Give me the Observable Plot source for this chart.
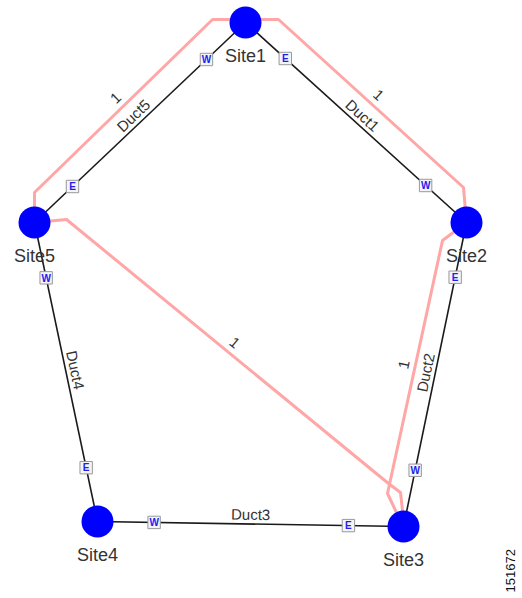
<!DOCTYPE html>
<html><head><meta charset="utf-8">
<script src="https://cdn.jsdelivr.net/npm/d3@7"></script>
<script src="https://cdn.jsdelivr.net/npm/@observablehq/plot@0.6"></script>
<style>body{margin:0;background:#fff;}</style>
</head><body><div id="chart"></div>
<script>
// Sites (node positions)
const siteNames = ["Site1", "Site2", "Site3", "Site4", "Site5"];
const siteX = [245, 466, 403, 97, 34];
const siteY = [22, 222, 526, 521, 222];

// Ducts
const ductNames = ["Duct1", "Duct2", "Duct3", "Duct4", "Duct5"];
const ductFrom = ["Site1", "Site2", "Site3", "Site4", "Site5"];
const ductTo = ["Site2", "Site3", "Site4", "Site5", "Site1"];
const fromPort = ["E", "E", "E", "E", "E"];
const toPort = ["W", "W", "W", "W", "W"];
const portFraction = [0.18, 0.815];

// Ring (circuit) path
const ringX = [34, 34, 212, 278, 463, 466, 442, 387, 395, 403, 402, 400, 388, 66, 34];
const ringY = [222, 192, 19, 19, 187, 222, 240, 493, 510, 526, 510, 492, 483, 219, 222];
const ringLabelSegment = [1, 3, 6, 12];
const ringLabelText = ["1", "1", "1", "1"];

const figureId = "151672";

// ---- derived tables ----
const sites = siteNames.map((name, i) => ({name, x: siteX[i], y: siteY[i]}));
const byName = Object.fromEntries(sites.map(s => [s.name, s]));
const norm = a => { while (a > 90) a -= 180; while (a <= -90) a += 180; return a; };
const angleOf = (x1, y1, x2, y2) => norm(Math.atan2(y2 - y1, x2 - x1) * 180 / Math.PI);
const up = (ang, d) => [d * Math.sin(ang * Math.PI / 180), -d * Math.cos(ang * Math.PI / 180)];

const ducts = ductNames.map((name, i) => {
  const a = byName[ductFrom[i]], b = byName[ductTo[i]];
  const ang = angleOf(a.x, a.y, b.x, b.y);
  const [ox, oy] = up(ang, 9);
  return {name, x1: a.x, y1: a.y, x2: b.x, y2: b.y, ang,
          lx: (a.x + b.x) / 2 + ox, ly: (a.y + b.y) / 2 + oy};
});
const ports = [];
ductNames.forEach((name, i) => {
  const a = byName[ductFrom[i]], b = byName[ductTo[i]];
  [[portFraction[0], fromPort[i]], [portFraction[1], toPort[i]]].forEach(([t, lab]) => {
    ports.push({x: a.x + (b.x - a.x) * t, y: a.y + (b.y - a.y) * t, lab});
  });
});
const ring = ringX.map((x, i) => ({x, y: ringY[i]}));
const ringLabels = ringLabelSegment.map((s, i) => {
  const p = ring[s], q = ring[s + 1];
  const ang = angleOf(p.x, p.y, q.x, q.y);
  const [ox, oy] = up(ang, 11);
  return {text: ringLabelText[i], x: (p.x + q.x) / 2 + ox, y: (p.y + q.y) / 2 + oy, ang};
});

const font = "Liberation Sans, Arial, sans-serif";
const chart = Plot.plot({
  width: 522, height: 598, margin: 0,
  x: {domain: [0, 522], range: [0, 522], axis: null},
  y: {domain: [0, 598], range: [0, 598], axis: null},
  style: {background: "#fff", fontFamily: font},
  marks: [
    Plot.line(ring, {x: "x", y: "y", stroke: "#ffa6a6", strokeWidth: 3, strokeLinejoin: "round", curve: "linear"}),
    Plot.link(ducts, {x1: "x1", y1: "y1", x2: "x2", y2: "y2", stroke: "#1a1a1a", strokeWidth: 1.6}),
    Plot.text(ducts, {x: "lx", y: "ly", text: "name", rotate: "ang", fontSize: 15, fill: "#333"}),
    Plot.text(ringLabels, {x: "x", y: "y", text: "text", rotate: "ang", fontSize: 15, fill: "#333"}),
    Plot.dot(ports, {x: "x", y: "y", symbol: "square", r: 7, fill: "#f4f4f8", stroke: "#999", strokeWidth: 1}),
    Plot.text(ports, {x: "x", y: "y", text: "lab", fontSize: 10, fontWeight: "bold", fill: "#2020ee", dy: 0.5}),
    Plot.dot(sites, {x: "x", y: "y", r: 16, fill: "#0000ff"}),
    Plot.text(sites, {x: "x", y: "y", text: "name", dy: 34, fontSize: 18, fill: "#333"}),
    Plot.text([figureId], {frameAnchor: "bottom-right", text: d => d, rotate: -90, textAnchor: "start", dx: -8, dy: -6, fontSize: 13, fill: "#111"})
  ]
});
document.getElementById("chart").appendChild(chart);
</script>
</body></html>
